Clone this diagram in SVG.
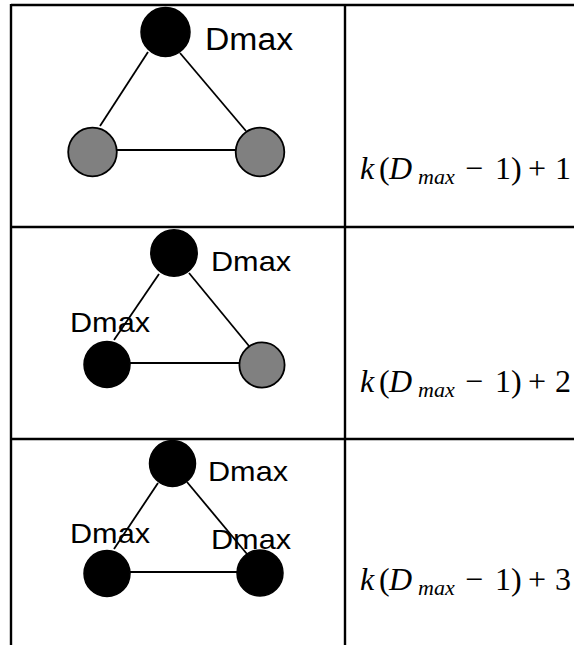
<svg xmlns="http://www.w3.org/2000/svg" width="574" height="645" viewBox="0 0 574 645">
<style>
.grid{stroke:#000;stroke-width:2.4;fill:none}
.edge{stroke:#000;stroke-width:1.8;fill:none}
.blk{fill:#000;stroke:#000;stroke-width:1.5}
.gry{fill:#808080;stroke:#000;stroke-width:1.8}
.lbl{font-family:"Liberation Sans",Arial,sans-serif;fill:#000}
.f{font-family:"Liberation Serif","Times New Roman",serif;font-size:32px;fill:#000}
.i{font-style:italic}
.sub{font-style:italic;font-size:22px}
</style>
<rect width="574" height="645" fill="#fff"/>
<g id="table">
<line class="grid" x1="11" y1="5" x2="574" y2="5"/>
<line class="grid" x1="11" y1="4" x2="11" y2="645"/>
<line class="grid" x1="345" y1="4" x2="345" y2="645"/>
<line class="grid" x1="11" y1="227" x2="574" y2="227"/>
<line class="grid" x1="11" y1="439" x2="574" y2="439"/>
</g>
<g id="connectors">
<line class="edge" x1="148" y1="52" x2="100" y2="126"/>
<line class="edge" x1="180" y1="53" x2="246" y2="131"/>
<line class="edge" x1="117" y1="150" x2="237" y2="150"/>
<line class="edge" x1="159" y1="274" x2="114" y2="340"/>
<line class="edge" x1="189" y1="273" x2="249" y2="346"/>
<line class="edge" x1="130" y1="363" x2="240" y2="363"/>
<line class="edge" x1="158" y1="483" x2="114" y2="549"/>
<line class="edge" x1="187" y1="482" x2="247" y2="554"/>
<line class="edge" x1="130" y1="572" x2="238" y2="572"/>
</g>
<g id="r1-top"><circle class="blk" cx="165.5" cy="32" r="24.5"/><text class="lbl" x="205" y="50" font-size="31" textLength="88" lengthAdjust="spacingAndGlyphs">Dmax</text></g>
<g id="r1-left"><circle class="gry" cx="92.5" cy="152" r="24.3"/></g>
<g id="r1-right"><circle class="gry" cx="260" cy="152" r="24.3"/></g>
<g id="r1-value"><text class="f" y="179"><tspan class="i" x="360">k</tspan><tspan x="379">(</tspan><tspan class="i" x="389">D</tspan><tspan class="sub" x="418" dy="5">max</tspan><tspan x="465" dy="-5">−</tspan><tspan x="495">1</tspan><tspan x="511">)</tspan><tspan x="528">+</tspan><tspan x="555">1</tspan></text></g>
<g id="r2-top"><circle class="blk" cx="174" cy="253" r="23.2"/><text class="lbl" x="211" y="271" font-size="28" textLength="80" lengthAdjust="spacingAndGlyphs">Dmax</text></g>
<g id="r2-left"><circle class="blk" cx="107" cy="364.5" r="23"/><text class="lbl" x="70" y="332" font-size="28" textLength="80" lengthAdjust="spacingAndGlyphs">Dmax</text></g>
<g id="r2-right"><circle class="gry" cx="262" cy="365" r="22.6"/></g>
<g id="r2-value"><text class="f" y="392"><tspan class="i" x="360">k</tspan><tspan x="379">(</tspan><tspan class="i" x="389">D</tspan><tspan class="sub" x="418" dy="5">max</tspan><tspan x="465" dy="-5">−</tspan><tspan x="495">1</tspan><tspan x="511">)</tspan><tspan x="528">+</tspan><tspan x="555">2</tspan></text></g>
<g id="r3-top"><circle class="blk" cx="172.5" cy="463.5" r="23"/><text class="lbl" x="208" y="481" font-size="28" textLength="80" lengthAdjust="spacingAndGlyphs">Dmax</text></g>
<g id="r3-left"><circle class="blk" cx="107" cy="573.5" r="23"/><text class="lbl" x="70" y="543" font-size="28" textLength="80" lengthAdjust="spacingAndGlyphs">Dmax</text></g>
<g id="r3-right"><circle class="blk" cx="260" cy="573" r="23"/><text class="lbl" x="211" y="549" font-size="28" textLength="80" lengthAdjust="spacingAndGlyphs">Dmax</text></g>
<g id="r3-value"><text class="f" y="590"><tspan class="i" x="360">k</tspan><tspan x="379">(</tspan><tspan class="i" x="389">D</tspan><tspan class="sub" x="418" dy="5">max</tspan><tspan x="465" dy="-5">−</tspan><tspan x="495">1</tspan><tspan x="511">)</tspan><tspan x="528">+</tspan><tspan x="555">3</tspan></text></g>
</svg>
